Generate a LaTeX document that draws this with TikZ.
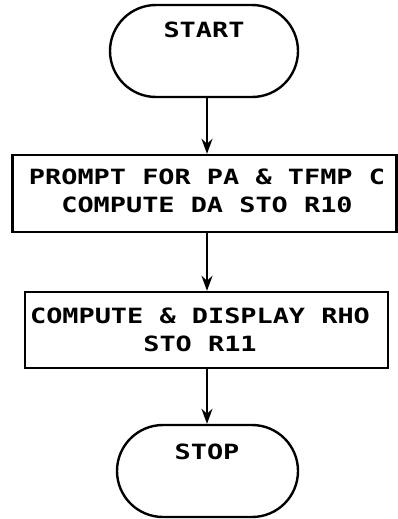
\documentclass[tikz,border=0pt]{standalone}
\usepackage{fontspec}
\setmainfont{DejaVu Sans Mono}[FakeStretch=1.28,BoldFont={DejaVu Sans Mono Bold},BoldFeatures={FakeStretch=1.28}]
\usetikzlibrary{arrows.meta}
\begin{document}
\begin{tikzpicture}[x=1pt,y=-1pt,
  line width=2.4pt,
  term/.style={draw,rectangle,rounded corners=46pt,inner sep=0pt},
  procbox/.style={draw,rectangle,inner sep=0pt},
  txt/.style={font=\fontsize{21}{28}\selectfont\bfseries,align=center,inner sep=0pt},
  flow/.style={-{Stealth[length=15pt,width=11pt]}}]
\useasboundingbox (0,0) rectangle (398,519);
\node[term,minimum width=188pt,minimum height=92pt] (start) at (204,51) {};
\node[txt] (starttxt) at (204,30) {START};
\node[procbox,minimum width=384pt,minimum height=77pt] (p1) at (204.5,193.5) {};
\node[txt] (p1txt) at (207,191) {PROMPT FOR PA \& TFMP C\\COMPUTE DA STO R10};
\node[procbox,minimum width=363pt,minimum height=76pt] (p2) at (206.5,330) {};
\node[txt] (p2txt) at (200,330) {COMPUTE \& DISPLAY RHO\\STO R11};
\node[term,minimum width=181pt,minimum height=92pt] (stop) at (207.5,471) {};
\node[txt] (stoptxt) at (207,452) {STOP};
\draw[flow] (start.south -| 207,0) -- (p1.north -| 207,0);
\draw[flow] (p1.south -| 207,0) -- (p2.north -| 207,0);
\draw[flow] (p2.south -| 207,0) -- (stop.north -| 207,0);
\end{tikzpicture}
\end{document}
